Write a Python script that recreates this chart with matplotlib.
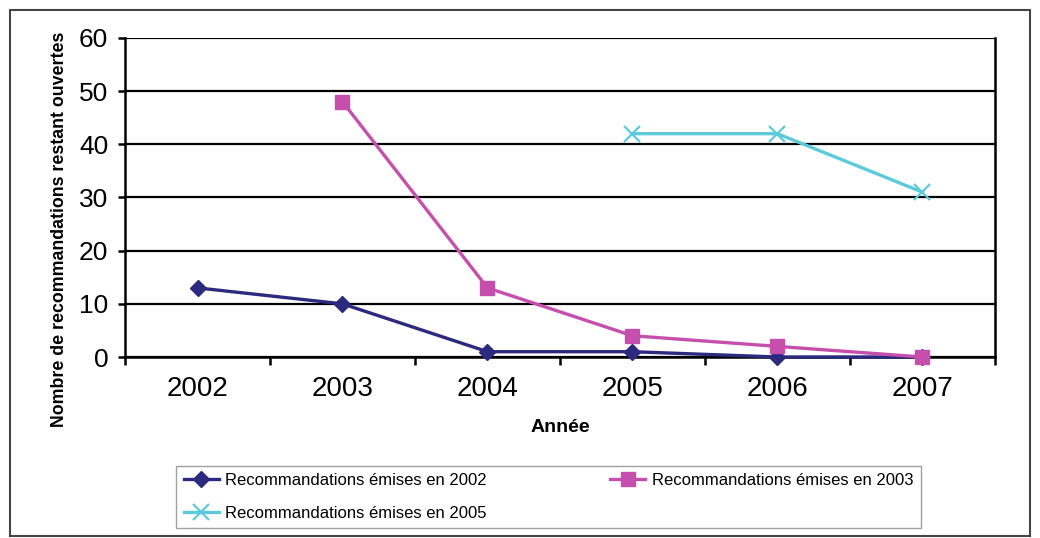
import matplotlib
matplotlib.use("Agg")
import matplotlib.pyplot as plt
import numpy as np
from matplotlib.patches import Rectangle

plt.rcParams['font.family'] = ['Liberation Sans', 'DejaVu Sans']

years = ["2002", "2003", "2004", "2005", "2006", "2007"]
emises_2002 = [13, 10, 1, 1, 0, 0]
emises_2003 = [None, 48, 13, 4, 2, 0]
emises_2005 = [None, None, None, 42, 42, 31]
labels = ["Recommandations émises en 2002",
          "Recommandations émises en 2003",
          "Recommandations émises en 2005"]
yticks = [0, 10, 20, 30, 40, 50, 60]

def as_array(vals):
    return np.array([np.nan if v is None else v for v in vals], dtype=float)

fig = plt.figure(figsize=(10.4, 5.38), dpi=100)
ax = fig.add_axes([0.1202, 0.3364, 0.8365, 0.5930])

x = np.arange(len(years))
h1, = ax.plot(x, as_array(emises_2002), color="#2b2a7f", lw=2.4,
              marker="D", ms=8, zorder=3, clip_on=False, label=labels[0])
h2, = ax.plot(x, as_array(emises_2003), color="#c64fae", lw=2.4,
              marker="s", ms=10, zorder=4, clip_on=False, label=labels[1])
h3, = ax.plot(x, as_array(emises_2005), color="#5ccadb", lw=2.4,
              marker="x", ms=11, mew=1.6, zorder=5, clip_on=False,
              label=labels[2])

ax.set_xlim(-0.5, len(years) - 0.5)
ax.set_ylim(0, 60)
ax.set_yticks(yticks)
ax.set_yticklabels([str(v) for v in yticks], fontsize=19)
ax.set_xticks(x)
ax.set_xticklabels(years, fontsize=20)
ax.set_xticks(np.arange(-0.5, len(years)), minor=True)
ax.tick_params(axis="x", which="major", length=0, pad=14)
ax.tick_params(axis="x", which="minor", length=6, width=1.8, direction="out")
ax.tick_params(axis="y", length=5, width=1.8, direction="out", pad=7)

ax.grid(axis="y", color="black", lw=1.6, zorder=1)
ax.set_axisbelow(True)
for side in ["left", "bottom", "right"]:
    ax.spines[side].set_linewidth(1.8)
ax.spines["top"].set_visible(False)

ax.set_xlabel("Année", fontsize=14, fontweight="bold", labelpad=12)
ax.set_ylabel("Nombre de recommandations restant ouvertes", fontsize=12.8,
              fontweight="bold")
ax.yaxis.set_label_coords(-0.0655, 0.40)

leg = fig.legend([h1, h3, h2], [labels[0], labels[2], labels[1]],
                 ncol=2, mode="expand", loc="center",
                 bbox_to_anchor=(176 / 1040, 10 / 538, 745 / 1040, 62 / 538),
                 fontsize=12, handlelength=2.1, handletextpad=0.4,
                 borderpad=0.45, labelspacing=1.05, borderaxespad=0,
                 frameon=True, fancybox=False, edgecolor="#888888")
leg.get_frame().set_linewidth(1.0)

fig.patches.append(Rectangle((0.0096, 0.004), 0.981, 0.978,
                             transform=fig.transFigure, fill=False,
                             edgecolor="#444444", lw=1.5))

fig.savefig("out.png", dpi=100)
